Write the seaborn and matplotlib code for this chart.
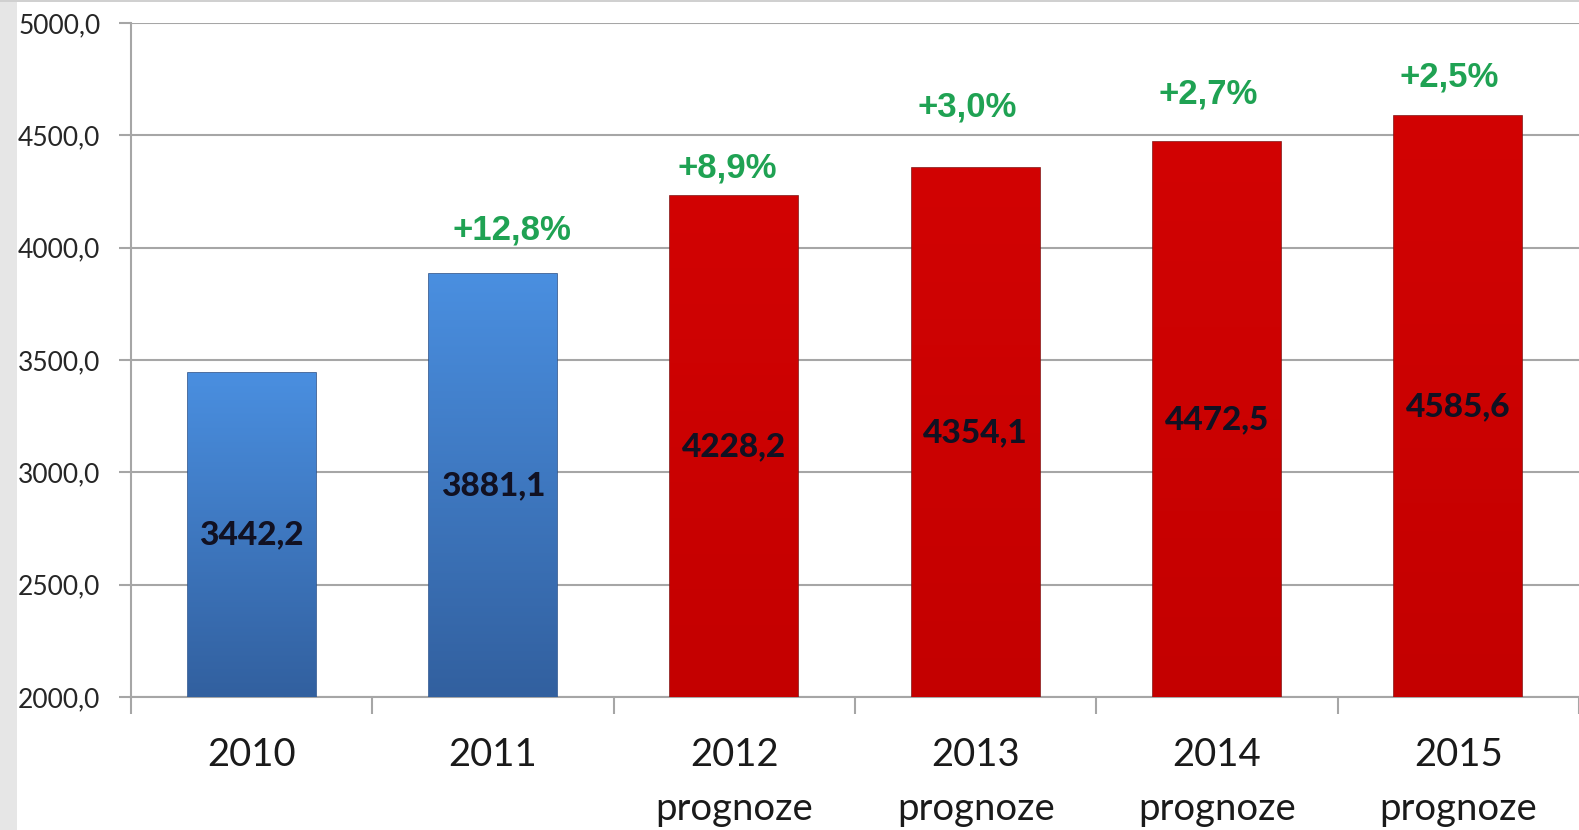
import numpy as np
import pandas as pd
import matplotlib
matplotlib.use("Agg")
import matplotlib.pyplot as plt
from matplotlib.colors import LinearSegmentedColormap
from matplotlib.patches import Rectangle
import seaborn as sns

# data
years = ["2010", "2011", "2012\nprognoze", "2013\nprognoze", "2014\nprognoze", "2015\nprognoze"]
values = [3442.2, 3881.1, 4228.2, 4354.1, 4472.5, 4585.6]
growth = ["", "+12,8%", "+8,9%", "+3,0%", "+2,7%", "+2,5%"]
bar_colors = ["#3b76c6", "#3b76c6", "#cc0000", "#cc0000", "#cc0000", "#cc0000"]
y_ticks = [2000, 2500, 3000, 3500, 4000, 4500, 5000]

# hand placed growth labels in the original (pixel offsets from bar top centre)
label_dx = [0, 19, -7, -8, -9, -9]
label_dy = [0, 44, 28, 61, 48, 39]

Y_MIN, Y_MAX = 2000, 5000

sns.set_theme(style="white")
plt.rcParams["font.family"] = ["Lato", "DejaVu Sans"]

df = pd.DataFrame({"year": years, "value": values})

fig = plt.figure(figsize=(15.79, 8.30), dpi=100)
ax = fig.add_axes([131 / 1579, 133 / 830, 1448 / 1579, 674 / 830])

# grey strip on the left edge and thin line at the top
fig.patches.append(Rectangle((0, 0), 17 / 1579, 1, transform=fig.transFigure,
                             facecolor="#e6e6e6", edgecolor="none", zorder=0))
fig.patches.append(Rectangle((0, 1 - 2 / 830), 1, 2 / 830, transform=fig.transFigure,
                             facecolor="#d0d0d0", edgecolor="none", zorder=0))

sns.barplot(data=df, x="year", y="value", hue="year", palette=bar_colors,
            width=0.53, legend=False, ax=ax, zorder=3, saturation=1)

ax.set_ylim(Y_MIN, Y_MAX)
ax.set_xlim(-0.5, 5.5)
ax.set_yticks(y_ticks)
ax.set_yticklabels([f"{v:.1f}".replace(".", ",") for v in y_ticks])
ax.set_xlabel("")
ax.set_ylabel("")

ax.yaxis.grid(True, color="#a6a6a6", linewidth=1.5, zorder=0)
ax.set_axisbelow(True)
for side in ["top", "right"]:
    ax.spines[side].set_visible(False)
for side in ["left", "bottom"]:
    ax.spines[side].set_color("#a6a6a6")
    ax.spines[side].set_linewidth(1.5)

ax.tick_params(axis="y", which="major", length=9, width=1.5, color="#a6a6a6",
               labelsize=19, labelcolor="#262626", pad=13, left=True)
ax.tick_params(axis="x", which="major", length=0, labelsize=27.5,
               labelcolor="#1a1a1a", pad=29)
for lbl in ax.get_xticklabels():
    lbl.set_linespacing(1.6)
    lbl.set_va("top")

ax.set_xticks(np.arange(-0.5, 6, 1), minor=True)
ax.tick_params(axis="x", which="minor", length=12, width=1.5, color="#a6a6a6",
               bottom=True)

# gradient fill on the bars (kept inside the visible y range)
grad_blue = LinearSegmentedColormap.from_list("gb", ["#32609f", "#4a8fe0"])
grad_red = LinearSegmentedColormap.from_list("gr", ["#c40000", "#d20303"])
bars = sorted([p for p in ax.patches if p.get_height() > 0], key=lambda p: p.get_x())
for bar, col in zip(bars, bar_colors):
    cmap = grad_blue if col == "#3b76c6" else grad_red
    x0, w = bar.get_x(), bar.get_width()
    top = bar.get_y() + bar.get_height()
    img = ax.imshow(np.linspace(0, 1, 256).reshape(-1, 1), cmap=cmap, aspect="auto",
                    origin="lower", extent=[x0, x0 + w, Y_MIN, top], zorder=3.5)
    img.set_clip_path(bar)
    bar.set_edgecolor("#8a1010" if col != "#3b76c6" else "#2c5590")
    bar.set_linewidth(1.2)
ax.set_xlim(-0.5, 5.5)
ax.set_ylim(Y_MIN, Y_MAX)

# value labels in the middle of the bars, growth labels above
px = 72 / fig.dpi
for bar, v, g, dx, dy in zip(bars, values, growth, label_dx, label_dy):
    cx = bar.get_x() + bar.get_width() / 2
    ax.text(cx, (Y_MIN + v) / 2, f"{v:.1f}".replace(".", ","), ha="center",
            va="center", fontsize=24, fontweight=900, color="#111122", zorder=5)
    if g:
        ax.annotate(g, xy=(cx, v), xytext=(dx * px, dy * px), textcoords="offset points",
                    ha="center", va="center", fontsize=25, fontweight="bold",
                    color="#1fa253", family=["Liberation Sans", "DejaVu Sans"])

fig.savefig("out.png", dpi=100)
